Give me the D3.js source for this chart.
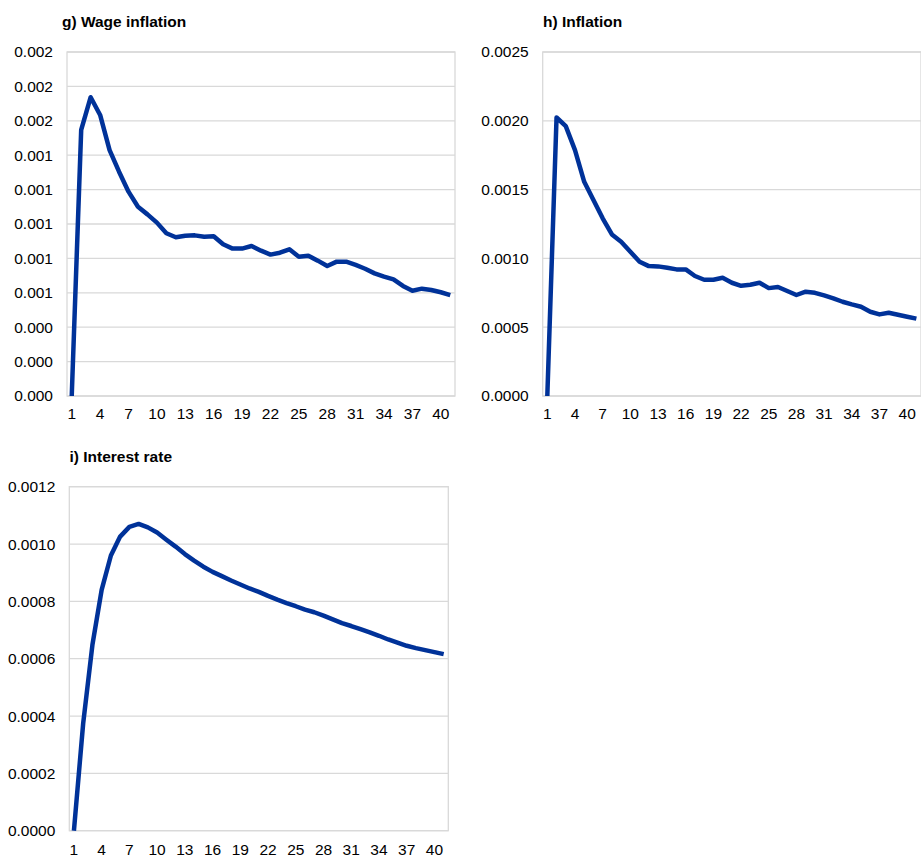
<!DOCTYPE html>
<html>
<head>
<meta charset="utf-8">
<script src="https://cdn.jsdelivr.net/npm/d3@7"></script>
<style>
  body { margin: 0; background: #fff; }
  svg text { font-family: "Liberation Sans", Arial, sans-serif; fill: #000; }
</style>
</head>
<body>
<svg id="chart" width="921" height="857"></svg>
<script>
// horizons (quarters)
var periods = [1,2,3,4,5,6,7,8,9,10,11,12,13,14,15,16,17,18,19,20,
               21,22,23,24,25,26,27,28,29,30,31,32,33,34,35,36,37,38,39,40,41];

var wageInflation = [0, 0.001547, 0.001737, 0.001634, 0.00143, 0.001304, 0.001188, 0.0011, 0.001056, 0.001008,
    0.000946, 0.000923, 0.000932, 0.000934, 0.000926, 0.000929, 0.000882, 0.000857, 0.000857, 0.000872,
    0.000845, 0.000822, 0.000833, 0.000853, 0.00081, 0.000816, 0.000787, 0.000756, 0.000781, 0.000781,
    0.000762, 0.00074, 0.000713, 0.000694, 0.000678, 0.00064, 0.000612, 0.000624, 0.000616, 0.000603, 0.000587];

var inflation = [0, 0.002024, 0.001961, 0.001787, 0.001557, 0.001424, 0.001291, 0.001174, 0.001121, 0.001048,
    0.000976, 0.000944, 0.000942, 0.000932, 0.00092, 0.00092, 0.000872, 0.000845, 0.000845, 0.000859,
    0.000823, 0.000801, 0.000808, 0.000823, 0.000784, 0.000792, 0.000763, 0.000734, 0.000758, 0.00075,
    0.000731, 0.00071, 0.000685, 0.000666, 0.000649, 0.000612, 0.000593, 0.000605, 0.00059, 0.000576, 0.000562];

var interestRate = [0, 0.000374, 0.000648, 0.00084, 0.00096, 0.001026, 0.00106, 0.00107, 0.001058, 0.00104,
    0.001015, 0.000991, 0.000965, 0.000942, 0.000921, 0.000903, 0.000888, 0.000873, 0.000859, 0.000845,
    0.000833, 0.000819, 0.000806, 0.000794, 0.000783, 0.000771, 0.000762, 0.00075, 0.000737, 0.000724,
    0.000714, 0.000703, 0.000692, 0.00068, 0.000667, 0.000656, 0.000645, 0.000637, 0.00063, 0.000623, 0.000616];

var wageTicks = [0, 0.0002, 0.0004, 0.0006, 0.0008, 0.001, 0.0012, 0.0014, 0.0016, 0.0018, 0.002];
var inflationTicks = [0, 0.0005, 0.001, 0.0015, 0.002, 0.0025];
var interestTicks = [0, 0.0002, 0.0004, 0.0006, 0.0008, 0.001, 0.0012];
var xTickLabels = [1,4,7,10,13,16,19,22,25,28,31,34,37,40];

var lineColor = "#003299",
    gridColor = "#d9d9d9";

var svg = d3.select("#chart");

function drawPanel(cfg) {
    var width = cfg.right - cfg.left,
        height = cfg.bottom - cfg.top;

    var g = svg.append("g")
        .attr("transform", "translate(" + cfg.left + "," + cfg.top + ")");

    var x = d3.scaleBand()
        .domain(periods)
        .range([0, width])
        .padding(0);

    var y = d3.scaleLinear()
        .domain([0, cfg.ticks[cfg.ticks.length - 1]])
        .range([height, 0]);

    // gridlines
    g.selectAll("line.grid")
        .data(cfg.ticks)
        .enter()
        .append("line")
        .attr("class", "grid")
        .attr("x1", 0)
        .attr("x2", width)
        .attr("y1", function (d) { return y(d); })
        .attr("y2", function (d) { return y(d); })
        .attr("stroke", gridColor)
        .attr("stroke-width", 1.3);

    // frame
    g.append("rect")
        .attr("x", 0)
        .attr("y", 0)
        .attr("width", width)
        .attr("height", height)
        .attr("fill", "none")
        .attr("stroke", gridColor)
        .attr("stroke-width", 1.3);

    // y axis labels
    var yAxis = g.append("g")
        .call(d3.axisLeft(y).tickValues(cfg.ticks).tickFormat(cfg.format).tickSize(0).tickPadding(14));
    yAxis.select(".domain").remove();
    yAxis.selectAll("text")
        .style("font-size", "15.5px")
        .attr("fill", "#000");

    // x axis labels
    var xAxis = g.append("g")
        .attr("transform", "translate(0," + height + ")")
        .call(d3.axisBottom(x).tickValues(xTickLabels).tickSize(0).tickPadding(cfg.xPad));
    xAxis.select(".domain").remove();
    xAxis.selectAll("text")
        .style("font-size", "15.5px")
        .attr("fill", "#000");

    var line = d3.line()
        .x(function (d, i) { return x(periods[i]) + x.bandwidth() / 2; })
        .y(function (d) { return y(d); });

    g.append("path")
        .datum(cfg.values)
        .attr("d", line)
        .attr("fill", "none")
        .attr("stroke", lineColor)
        .attr("stroke-width", 4.5)
        .attr("stroke-linejoin", "round");

    svg.append("text")
        .attr("x", cfg.titleX)
        .attr("y", cfg.top - 24.7)
        .style("font-size", "15.5px")
        .style("font-weight", "bold")
        .text(cfg.title);
}

drawPanel({
    title: "g) Wage inflation", titleX: 62,
    left: 67, right: 455, top: 52, bottom: 396,
    values: wageInflation, ticks: wageTicks, format: d3.format(".3f"), xPad: 12.3
});

drawPanel({
    title: "h) Inflation", titleX: 543,
    left: 542.7, right: 921, top: 52, bottom: 396,
    values: inflation, ticks: inflationTicks, format: d3.format(".4f"), xPad: 12.3
});

drawPanel({
    title: "i) Interest rate", titleX: 69.5,
    left: 69.3, right: 448.3, top: 486.7, bottom: 830.7,
    values: interestRate, ticks: interestTicks, format: d3.format(".4f"), xPad: 13.2
});
</script>
</body>
</html>
